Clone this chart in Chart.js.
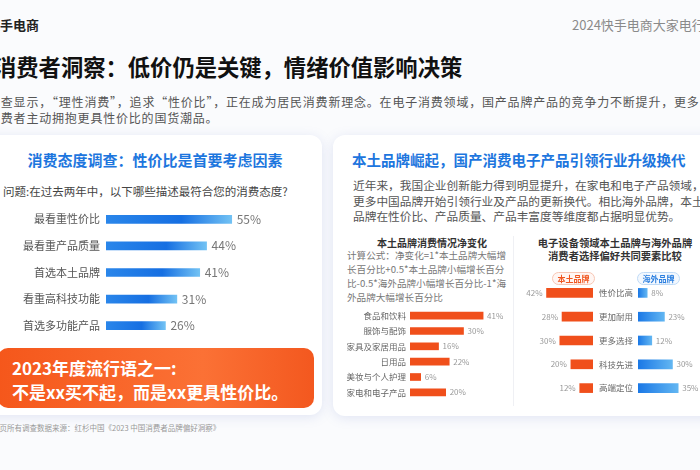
<!DOCTYPE html>
<html lang="zh">
<head>
<meta charset="utf-8">
<script src="https://cdn.jsdelivr.net/npm/chart.js@4.4.1/dist/chart.umd.min.js"></script>
<style>
  body { margin:0; width:700px; height:470px; overflow:hidden; background:#fafbfd; position:relative;
         font-family:"Noto Sans CJK SC","Noto Sans",sans-serif; }
  .t { position:absolute; white-space:nowrap; }
  .card { position:absolute; background:#fff; border-radius:12px; box-shadow:0 2px 12px rgba(110,130,200,0.18); }
  canvas { position:absolute; }
  .pill { position:absolute; height:11px; width:41px; border-radius:7px; font-size:8px; line-height:11px; text-align:center; font-weight:bold; }
</style>
</head>
<body>

<div class="t" style="left:-13px;top:17px;font-size:13px;line-height:16px;color:#222;font-weight:bold">快手电商</div>
<div class="t" style="left:572px;top:17px;font-size:13px;line-height:16px;color:#8a8a8a">2024快手电商大家电行业报告</div>
<div class="t" style="left:-6px;top:52px;font-size:22.3px;line-height:28px;color:#111;font-weight:bold">消费者洞察：低价仍是关键，情绪价值影响决策</div>
<div class="t" style="left:-12px;top:94px;font-size:12px;line-height:16px;color:#555;letter-spacing:0.8px">调查显示，“理性消费”，追求“性价比”，正在成为居民消费新理念。在电子消费领域，国产品牌产品的竞争力不断提升，更多</div>
<div class="t" style="left:-12px;top:110px;font-size:12px;line-height:16px;color:#555;letter-spacing:0.8px">消费者主动拥抱更具性价比的国货潮品。</div>

<!-- left card -->
<div class="card" style="left:-20px;top:135px;width:342px;height:280px"></div>
<div class="t" style="left:0;width:310px;text-align:center;top:150px;font-size:15px;line-height:20px;color:#1d76de;font-weight:bold">消费态度调查：性价比是首要考虑因素</div>
<div class="t" style="left:3px;top:183px;font-size:11.5px;line-height:16px;color:#444">问题:在过去两年中，以下哪些描述最符合您的消费态度?</div>
<canvas id="survey" width="266" height="133" style="left:0;top:206px"></canvas>
<div style="position:absolute;left:-2px;top:348px;width:316px;height:60px;border-radius:10px;background:linear-gradient(90deg,#f5571b,#fb7135 65%,#f3581f)"></div>
<div class="t" style="left:12px;top:358px;font-size:17px;line-height:20px;color:#fff;font-weight:bold">2023年度流行语之一:</div>
<div class="t" style="left:12px;top:382px;font-size:17px;line-height:20px;color:#fff;font-weight:bold">不是xx买不起，而是xx更具性价比。</div>
<div class="t" style="left:-8px;top:423px;font-size:7.5px;line-height:10px;color:#999">本页所有调查数据来源：红杉中国《2023 中国消费者品牌偏好洞察》</div>

<!-- right card -->
<div class="card" style="left:333px;top:135px;width:390px;height:281px"></div>
<div class="t" style="left:352px;top:150px;font-size:14.5px;line-height:20px;color:#1d76de;font-weight:bold">本土品牌崛起，国产消费电子产品引领行业升级换代</div>
<div class="t" style="left:353px;top:177px;font-size:11.7px;line-height:15.5px;color:#555">近年来，我国企业创新能力得到明显提升，在家电和电子产品领域，<br>更多中国品牌开始引领行业及产品的更新换代。相比海外品牌，本土<br>品牌在性价比、产品质量、产品丰富度等维度都占据明显优势。</div>

<div class="t" style="left:352px;width:160px;text-align:center;top:236px;font-size:10px;line-height:14px;color:#333;font-weight:bold">本土品牌消费情况净变化</div>
<div class="t" style="left:347px;top:248px;font-size:9.6px;line-height:14px;color:#777">计算公式：净变化=1*本土品牌大幅增<br>长百分比+0.5*本土品牌小幅增长百分<br>比-0.5*海外品牌小幅增长百分比-1*海<br>外品牌大幅增长百分比</div>
<canvas id="net" width="177" height="92" style="left:340px;top:308px"></canvas>

<div style="position:absolute;left:513px;top:236px;width:1px;height:170px;background:#eff0f4"></div>
<div class="t" style="left:535px;width:160px;text-align:center;top:235.5px;font-size:10.3px;line-height:13px;color:#333;font-weight:bold">电子设备领域本土品牌与海外品牌<br>消费者选择偏好共同要素比较</div>
<div class="pill" style="left:552px;top:272px;border:1px solid #f7c6b4;background:#fff6f3;color:#f0561f">本土品牌</div>
<div class="pill" style="left:637px;top:272px;border:1px solid #bfdaf6;background:#f3f8fe;color:#2b7fe0">海外品牌</div>
<canvas id="local" width="118" height="119" style="left:520px;top:281px"></canvas>
<canvas id="foreign" width="62" height="119" style="left:638px;top:281px"></canvas>

<script>
const surveyLabels = ['最看重性价比', '最看重产品质量', '首选本土品牌', '看重高科技功能', '首选多功能产品'];
const surveyValues = [55, 44, 41, 31, 26];

const netLabels = ['食品和饮料', '服饰与配饰', '家具及家居用品', '日用品', '美妆与个人护理', '家电和电子产品'];
const netValues = [41, 30, 16, 22, 6, 20];

const factorLabels = ['性价比高', '更加耐用', '更多选择', '科技先进', '高端定位'];
const localValues = [42, 28, 30, 20, 12];
const foreignValues = [8, 23, 12, 30, 35];

Chart.defaults.font.family = '"Noto Sans CJK SC", "Noto Sans", sans-serif';

// writes "xx%" next to the end of every bar
const valueLabels = {
  id: 'valueLabels',
  afterDatasetsDraw(chart, args, opts) {
    const ctx = chart.ctx;
    ctx.save();
    ctx.font = opts.font;
    ctx.fillStyle = opts.color;
    ctx.textBaseline = 'middle';
    ctx.textAlign = opts.left ? 'right' : 'left';
    chart.getDatasetMeta(0).data.forEach((bar, i) => {
      const v = chart.data.datasets[0].data[i];
      ctx.fillText(v + '%', opts.left ? bar.x - opts.gap : bar.x + opts.gap, bar.y);
    });
    ctx.restore();
  }
};

function gradient(stops) {
  return (c) => {
    const chart = c.chart;
    if (!chart.chartArea) return stops[0][1];
    const x = chart.scales.x;
    const g = chart.ctx.createLinearGradient(x.getPixelForValue(0), 0, x.getPixelForValue(c.raw), 0);
    stops.forEach(s => g.addColorStop(s[0], s[1]));
    return g;
  };
}

function hbar(id, labels, values, o) {
  return new Chart(document.getElementById(id), {
    type: 'bar',
    data: {
      labels: labels,
      datasets: [{ data: values, backgroundColor: o.color, barThickness: o.thick, borderWidth: 0 }]
    },
    options: {
      indexAxis: 'y',
      responsive: false,
      animation: false,
      layout: { padding: 0 },
      plugins: { legend: { display: false }, tooltip: { enabled: false }, valueLabels: o.labels },
      scales: {
        x: { display: false, min: 0, max: o.max, reverse: !!o.reverse },
        y: {
          display: o.axisWidth > 0,
          position: o.axisPos || 'left',
          grid: { display: false, drawTicks: false },
          border: { display: false },
          ticks: { color: o.tickColor, font: { size: o.tickSize }, padding: o.tickPad },
          afterFit(s) { s.width = o.axisWidth; s.paddingTop = 0; s.paddingBottom = 0; }
        }
      }
    },
    plugins: [valueLabels]
  });
}

const blue = gradient([[0, '#2a86ea'], [0.6, '#166fe2'], [1, '#72c2f4']]);
const orange = '#f04f1b';

hbar('survey', surveyLabels, surveyValues, {
  color: blue, thick: 8, max: 70, axisWidth: 106, tickColor: '#555', tickSize: 11, tickPad: 6,
  labels: { font: '12px "Noto Sans CJK SC"', color: '#777', gap: 5 }
});

hbar('net', netLabels, netValues, {
  color: orange, thick: 7, max: 60, axisWidth: 70, tickColor: '#666', tickSize: 8.5, tickPad: 4,
  labels: { font: '8px "Noto Sans CJK SC"', color: '#999', gap: 4 }
});

hbar('local', factorLabels, localValues, {
  color: orange, thick: 9, max: 66, reverse: true, axisWidth: 45, axisPos: 'right',
  tickColor: '#666', tickSize: 8.5, tickPad: 6,
  labels: { font: '8px "Noto Sans CJK SC"', color: '#999', gap: 4, left: true }
});

hbar('foreign', factorLabels, foreignValues, {
  color: gradient([[0, '#1a78e6'], [1, '#62b6f2']]), thick: 9, max: 54, axisWidth: 0,
  labels: { font: '8px "Noto Sans CJK SC"', color: '#999', gap: 4 }
});
</script>
</body>
</html>
